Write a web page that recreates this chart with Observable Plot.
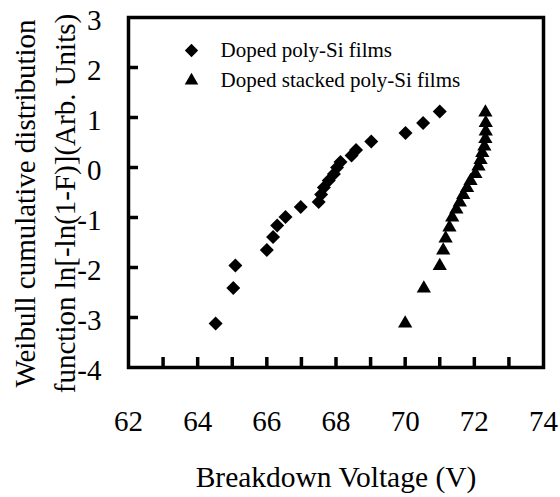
<!DOCTYPE html>
<html><head><meta charset="utf-8">
<script src="https://cdn.jsdelivr.net/npm/d3@7"></script>
<script src="https://cdn.jsdelivr.net/npm/@observablehq/plot@0.6"></script>
<style>body{margin:0;background:#fff}</style>
</head><body><div id="chart"></div>
<script>
// Doped poly-Si films (diamonds)
const polyVoltage = [64.52,65.03,65.09,66.0,66.18,66.3,66.54,66.98,67.5,67.57,67.65,67.79,67.94,68.03,68.13,68.45,68.58,69.02,70.01,70.52,71.0];
const polyWeibull = [-3.12,-2.41,-1.96,-1.65,-1.39,-1.16,-0.99,-0.79,-0.69,-0.54,-0.4,-0.26,-0.13,0.0,0.11,0.24,0.35,0.52,0.69,0.89,1.12];
// Doped stacked poly-Si films (triangles)
const stackVoltage = [72.32,72.33,72.33,72.32,72.29,72.23,72.18,72.12,72.03,71.89,71.79,71.68,71.58,71.48,71.36,71.28,71.17,71.1,71.0,70.54,70.0];
const stackWeibull = [1.1,0.89,0.72,0.57,0.42,0.29,0.15,0.02,-0.13,-0.27,-0.41,-0.55,-0.70,-0.84,-1.0,-1.2,-1.42,-1.66,-1.97,-2.42,-3.12];

const seriesNames = ["Doped poly-Si films", "Doped stacked poly-Si films"];
const seriesSymbols = ["diamond2", "triangle"];
const xTickLabels = [62, 64, 66, 68, 70, 72, 74];
const xMinorTicks = [63, 64, 65, 66, 67, 68, 69, 70, 71, 72, 73];
const yTickLabels = [-4, -3, -2, -1, 0, 1, 2, 3];
const yMinorTicks = [-3, -2, -1, 0, 1, 2];
const xTitle = "Breakdown Voltage (V)";
const yTitle = ["Weibull cumulative distribution", "function ln[-ln(1-F)](Arb. Units)"];

const poly = polyVoltage.map((v, i) => ({v, w: polyWeibull[i]}));
const stack = stackVoltage.map((v, i) => ({v, w: stackWeibull[i]}));
const symR = {diamond2: 6.3, triangle: 5.3};
const font = "Liberation Serif";

const chart = Plot.plot({
  width: 560,
  height: 497,
  marginLeft: 128,
  marginRight: 17,
  marginTop: 17,
  marginBottom: 130,
  style: {background: "white", fontFamily: font, color: "black"},
  x: {domain: [62, 74]},
  y: {domain: [-4, 3]},
  marks: [
    Plot.tickX(xMinorTicks, {x: d => d, insetTop: 340, stroke: "black", strokeWidth: 3.5}),
    Plot.tickY(yMinorTicks, {y: d => d, insetRight: 405, stroke: "black", strokeWidth: 3.5}),
    Plot.frame({stroke: "black", strokeWidth: 3.5}),
    Plot.axisX({ticks: xTickLabels, tickSize: 0, tickPadding: 43, fontSize: 29, fontFamily: font, tickFormat: d => String(d), label: null}),
    Plot.axisY({ticks: yTickLabels, tickSize: 0, tickPadding: 27, fontSize: 29, fontFamily: font, tickFormat: d => String(d), dy: 3, label: null}),
    Plot.text([xTitle], {frameAnchor: "bottom", dy: 110, lineAnchor: "middle", fontSize: 29.5, fontFamily: font, fill: "black"}),
    Plot.text([yTitle.join("\n")], {frameAnchor: "left", dx: -86, dy: 11, rotate: -90, textAnchor: "middle", lineAnchor: "middle", lineHeight: 1.38, fontSize: 29, fontFamily: font, fill: "black"}),
    Plot.dot(poly, {x: "v", y: "w", symbol: () => seriesSymbols[0], r: symR.diamond2, fill: "black", stroke: "none"}),
    Plot.dot(stack, {x: "v", y: "w", symbol: () => seriesSymbols[1], r: symR.triangle, fill: "black", stroke: "none"}),
    ...seriesNames.flatMap((name, i) => [
      Plot.dot([name], {frameAnchor: "top-left", dx: 63, dy: 33 + 30 * i, symbol: () => seriesSymbols[i], r: symR[seriesSymbols[i]] * 0.95, fill: "black", stroke: "none"}),
      Plot.text([name], {frameAnchor: "top-left", dx: 92, dy: 33 + 30 * i, textAnchor: "start", lineAnchor: "middle", fontSize: 21, fontFamily: font, fill: "black"})
    ])
  ]
});
document.getElementById("chart").appendChild(chart);
</script>
</body></html>
